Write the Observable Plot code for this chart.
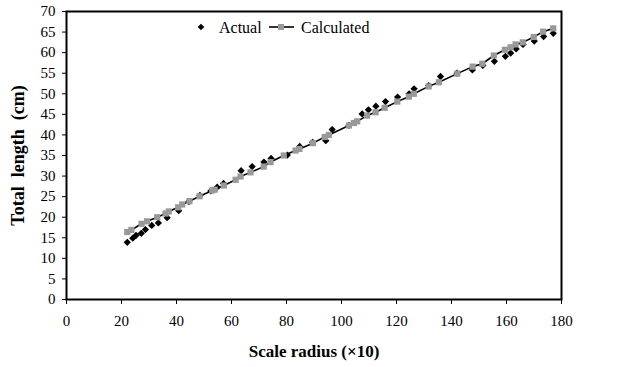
<!DOCTYPE html>
<html><head><meta charset="utf-8">
<script src="https://cdn.jsdelivr.net/npm/d3@7"></script>
<script src="https://cdn.jsdelivr.net/npm/@observablehq/plot@0.6"></script>
<style>
body{margin:0;background:#fff}
svg, svg text, svg g{font-family:"Times New Roman","Liberation Serif",serif !important}
svg .ytitle text{white-space:pre}
</style>
</head><body><div id="chart"></div>
<script>
// Actual (black diamonds)
const actualX = [22.1,24.1,25.3,27.2,28.7,31.0,33.4,36.6,40.8,44.5,48.5,52.5,54.8,57.1,63.5,67.5,71.8,74.4,80.3,84.8,89.5,94.3,96.6,102.7,107.5,109.8,112.5,116.0,120.4,124.6,126.4,131.7,136.0,142.0,147.6,151.4,155.6,159.6,161.5,163.5,166.0,170.1,173.5,177.0];
const actualY = [13.9,14.9,15.6,16.1,17.0,18.0,18.6,19.9,21.6,23.8,25.3,26.4,27.3,28.2,31.3,32.3,33.4,34.3,35.1,37.2,38.2,38.6,41.3,42.3,45.1,46.1,47.0,48.1,49.2,50.0,51.2,52.0,54.2,55.0,55.8,56.9,57.9,59.1,59.9,60.9,62.0,62.8,63.9,64.7];
// Calculated (grey squares + line)
const calcX = [22.1,23.6,27.3,29.3,33.0,36.0,37.2,40.6,42.1,44.7,48.4,53.0,53.9,57.2,61.5,63.3,66.9,71.7,74.2,79.0,83.3,84.7,89.6,93.9,95.4,102.7,104.5,105.7,109.3,112.4,115.7,120.3,124.5,126.3,131.7,135.4,142.1,147.7,151.2,155.4,159.4,161.5,163.3,165.9,169.9,173.3,177.0];
const calcY = [16.4,16.9,18.4,19.0,20.0,20.9,21.4,22.4,23.1,23.9,25.1,26.5,26.7,27.7,29.1,29.9,30.9,32.3,33.4,35.0,36.2,36.6,38.0,39.5,40.0,42.3,42.9,43.3,44.7,45.5,46.6,48.1,49.3,50.0,51.8,52.8,54.9,56.6,57.3,59.3,60.7,61.3,62.0,62.5,63.8,65.1,65.9];
const xTicks = [0,20,40,60,80,100,120,140,160,180];
const yTicks = [0,5,10,15,20,25,30,35,40,45,50,55,60,65,70];
const xTitle = "Scale radius (×10)";
const yTitle = "Total  length  (cm)";
const seriesNames = ["Actual","Calculated"];

const actual = actualX.map((x,i)=>({x, y: actualY[i]}));
const calc = calcX.map((x,i)=>({x, y: calcY[i]}));

const diamond = {draw(ctx, size){ const h = Math.sqrt(size/2); ctx.moveTo(0,-h); ctx.lineTo(h,0); ctx.lineTo(0,h); ctx.lineTo(-h,0); ctx.closePath(); }};
const FONT = "Times New Roman, Liberation Serif, serif";

const chart = Plot.plot({
  width: 617, height: 367,
  marginLeft: 66, marginRight: 56, marginTop: 11, marginBottom: 68,
  style: {fontFamily: FONT, fontSize: "15px", color: "#000", background: "#fff", overflow: "visible"},
  x: {domain: [0,180]},
  y: {domain: [0,70]},
  marks: [
    Plot.axisX({ticks: xTicks, tickSize: 5, tickPadding: 11, fontSize: 15, label: null, stroke: "#000"}),
    Plot.axisY({ticks: yTicks, tickSize: 4, tickPadding: 7, fontSize: 15, label: null, stroke: "#000"}),
    Plot.dot(actual, {x: "x", y: "y", symbol: diamond, r: 2.9, fill: "#000", stroke: "none"}),
    Plot.line(calc, {x: "x", y: "y", stroke: "#000", strokeWidth: 1.6}),
    Plot.dot(calc, {x: "x", y: "y", symbol: "square", r: 3.5, fill: "#999", stroke: "none"}),
    Plot.frame({stroke: "#000", strokeWidth: 2}),
    Plot.text([xTitle], {frameAnchor: "bottom", dy: 52, lineAnchor: "middle", textAnchor: "middle", fontWeight: "bold", fontSize: 17}),
    Plot.text([yTitle], {frameAnchor: "left", dx: -48, rotate: -90, lineAnchor: "middle", textAnchor: "middle", fontWeight: "bold", fontSize: 18, className: "ytitle"})
  ]
});
document.getElementById("chart").appendChild(chart);

// legend inside plot area
const svg = d3.select(chart);
const lg = svg.append("g").attr("font-size", 16).attr("text-anchor","start");
const ly = 27;
lg.append("path").attr("d", d3.symbol(diamond, 2*3.3*3.3)()).attr("transform", `translate(201,${ly})`).attr("fill","#000");
lg.append("text").attr("x", 219).attr("y", ly).attr("dy","0.35em").text(seriesNames[0]);
lg.append("line").attr("x1", 269).attr("x2", 294).attr("y1", ly).attr("y2", ly).attr("stroke","#000").attr("stroke-width",1.6);
lg.append("rect").attr("x", 278).attr("y", ly-3).attr("width", 6).attr("height", 6).attr("fill","#999");
lg.append("text").attr("x", 301).attr("y", ly).attr("dy","0.35em").text(seriesNames[1]);
</script>
</body></html>
